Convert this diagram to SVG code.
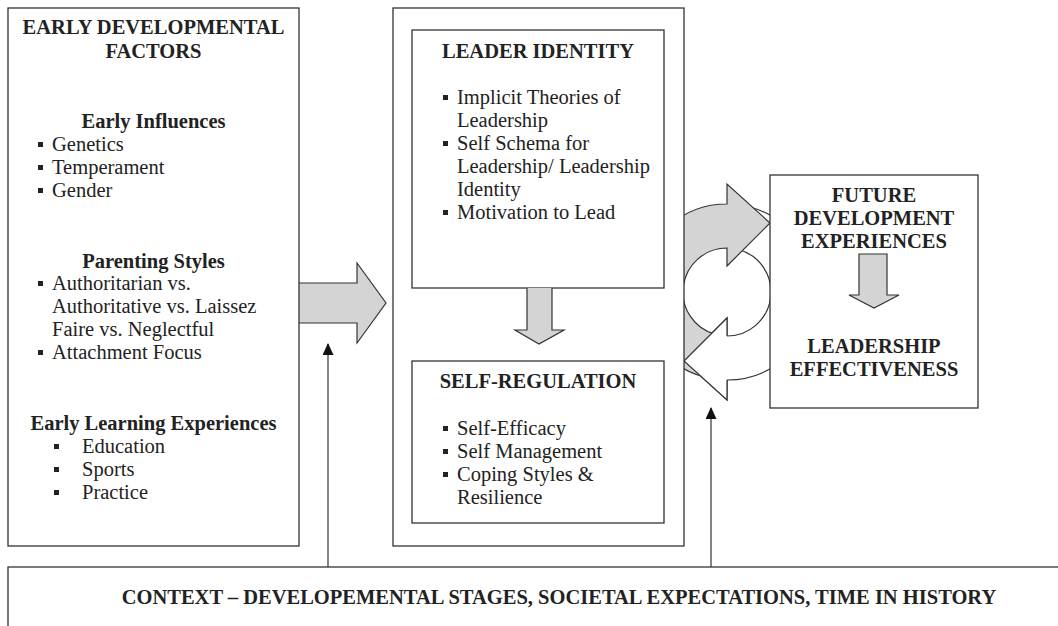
<svg xmlns="http://www.w3.org/2000/svg" width="1058" height="626" viewBox="0 0 1058 626">
<defs>
<style>
.box{fill:#fff;stroke:#333;stroke-width:1.3}
.t{font-family:"Liberation Serif","Times New Roman",serif;font-size:20.5px;fill:#222}
.b{font-weight:bold}
.c{text-anchor:middle}
.blk{fill:#d4d4d4;stroke:#333;stroke-width:1.2;stroke-linejoin:miter}
.wht{fill:#fff;stroke:#333;stroke-width:1.2}
.ln{fill:none;stroke:#333;stroke-width:1.2}
.bul{fill:#222}
</style>
<marker id="ah" markerUnits="userSpaceOnUse" markerWidth="12" markerHeight="11" refX="11" refY="5.5" orient="auto" viewBox="0 0 12 11">
<path d="M0,0 L12,5.5 L0,11 Z" fill="#111"/>
</marker>
</defs>

<g id="connectors">
<!-- big arrow left -> middle -->
<path class="blk" d="M299,283 L357,283 L357,263 L386,303 L357,343 L357,323 L299,323"/>
<!-- circular arrows -->
<path class="wht" d="M749.8,207 A88,88 0 0 1 727,380 L727,400 L684,361 L727,318 L727,336 A44,44 0 0 0 738.4,249.5 Z"/>
<path class="blk" d="M704.2,377 A88,88 0 0 1 727,204 L727,184 L770,223 L727,266 L727,248 A44,44 0 0 0 715.6,334.5 Z"/>
<path d="M727,400 L684,361 L727,318 Z" fill="#fff"/>
<path class="ln" d="M727,380 L727,400 L684,361 L727,318 L727,336"/>
<!-- up arrows from context -->
<line class="ln" x1="328" y1="567" x2="328" y2="344" marker-end="url(#ah)"/>
<line class="ln" x1="711" y1="567" x2="711" y2="408" marker-end="url(#ah)"/>
</g>

<g id="early-factors">
<rect class="box" x="8" y="8" width="291" height="538"/>
<text class="t b c" x="153.5" y="34">EARLY DEVELOPMENTAL</text>
<text class="t b c" x="153.5" y="58">FACTORS</text>
<text class="t b c" x="153.5" y="128">Early Influences</text>
<rect class="bul" x="38" y="142" width="5" height="5"/>
<text class="t" x="52" y="151">Genetics</text>
<rect class="bul" x="38" y="165" width="5" height="5"/>
<text class="t" x="52" y="174">Temperament</text>
<rect class="bul" x="38" y="188" width="5" height="5"/>
<text class="t" x="52" y="197">Gender</text>
<text class="t b c" x="153.5" y="268">Parenting Styles</text>
<rect class="bul" x="38" y="281" width="5" height="5"/>
<text class="t" x="52" y="290">Authoritarian vs.</text>
<text class="t" x="52" y="313">Authoritative vs. Laissez</text>
<text class="t" x="52" y="336">Faire vs. Neglectful</text>
<rect class="bul" x="38" y="350" width="5" height="5"/>
<text class="t" x="52" y="359">Attachment Focus</text>
<text class="t b c" x="153.5" y="430">Early Learning Experiences</text>
<rect class="bul" x="54" y="444" width="5" height="5"/>
<text class="t" x="82" y="453">Education</text>
<rect class="bul" x="54" y="467" width="5" height="5"/>
<text class="t" x="82" y="476">Sports</text>
<rect class="bul" x="54" y="490" width="5" height="5"/>
<text class="t" x="82" y="499">Practice</text>
</g>

<g id="middle">
<rect class="box" x="393" y="8" width="291" height="538"/>
</g>

<g id="leader-identity">
<rect class="box" x="412" y="30" width="252" height="258"/>
<text class="t b c" x="538" y="58">LEADER IDENTITY</text>
<rect class="bul" x="443" y="95" width="5" height="5"/>
<text class="t" x="457" y="104">Implicit Theories of</text>
<text class="t" x="457" y="127">Leadership</text>
<rect class="bul" x="443" y="141" width="5" height="5"/>
<text class="t" x="457" y="150">Self Schema for</text>
<text class="t" x="457" y="173">Leadership/ Leadership</text>
<text class="t" x="457" y="196">Identity</text>
<rect class="bul" x="443" y="210" width="5" height="5"/>
<text class="t" x="457" y="219">Motivation to Lead</text>
</g>

<g id="arrow-li-sr">
<path class="blk" d="M527,288 L527,330 L515,330 L539,344 L564,330 L552,330 L552,288"/>
</g>

<g id="self-regulation">
<rect class="box" x="412" y="361" width="252" height="162"/>
<text class="t b c" x="538" y="388">SELF-REGULATION</text>
<rect class="bul" x="443" y="426" width="5" height="5"/>
<text class="t" x="457" y="435">Self-Efficacy</text>
<rect class="bul" x="443" y="449" width="5" height="5"/>
<text class="t" x="457" y="458">Self Management</text>
<rect class="bul" x="443" y="472" width="5" height="5"/>
<text class="t" x="457" y="481">Coping Styles &amp;</text>
<text class="t" x="457" y="504">Resilience</text>
</g>

<g id="future">
<rect class="box" x="770" y="175" width="208" height="233"/>
<text class="t b c" x="874" y="202">FUTURE</text>
<text class="t b c" x="874" y="225">DEVELOPMENT</text>
<text class="t b c" x="874" y="248">EXPERIENCES</text>
<path class="blk" d="M859,254 L859,295 L849,295 L874,308 L899,295 L887,295 L887,254 Z"/>
<text class="t b c" x="874" y="353">LEADERSHIP</text>
<text class="t b c" x="874" y="376">EFFECTIVENESS</text>
</g>

<g id="context">
<rect class="box" x="8" y="567" width="1100" height="100"/>
<text class="t b c" x="559" y="604">CONTEXT – DEVELOPEMENTAL STAGES, SOCIETAL EXPECTATIONS, TIME IN HISTORY</text>
</g>
</svg>
